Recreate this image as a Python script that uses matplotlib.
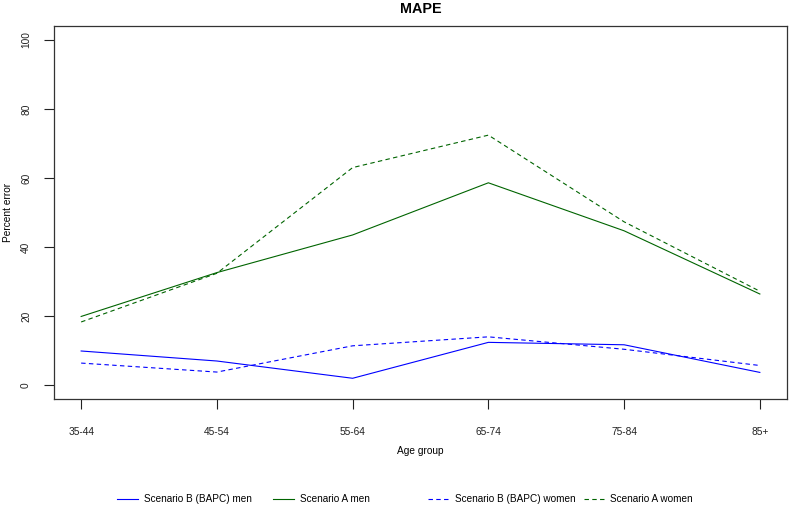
import matplotlib
matplotlib.use("Agg")
import matplotlib.pyplot as plt
from matplotlib.lines import Line2D

plt.rcParams['font.family'] = ['Liberation Sans', 'DejaVu Sans']

age_groups = ["35-44", "45-54", "55-64", "65-74", "75-84", "85+"]
b_men = [9.9, 7.0, 2.0, 12.4, 11.7, 3.7]
a_men = [19.9, 32.6, 43.5, 58.6, 44.7, 26.4]
b_women = [6.4, 3.8, 11.4, 14.0, 10.4, 5.7]
a_women = [18.3, 32.4, 63.0, 72.4, 47.3, 27.2]
yticks = [0, 20, 40, 60, 80, 100]

series = [
    ("Scenario B (BAPC) men", b_men, "#0000ff", "-"),
    ("Scenario A men", a_men, "#006400", "-"),
    ("Scenario B (BAPC) women", b_women, "#0000ff", (0, (4, 3))),
    ("Scenario A women", a_women, "#006400", (0, (4, 3))),
]

W, H = 789, 507
fig = plt.figure(figsize=(W / 100, H / 100), dpi=100)
left, right, top, bottom = 54, 787, 26, 399
ax = fig.add_axes([left / W, 1 - bottom / H, (right - left) / W, (bottom - top) / H])

x = list(range(1, len(age_groups) + 1))
for label, vals, color, ls in series:
    ax.plot(x, vals, color=color, linestyle=ls, linewidth=0.8)

ax.set_xlim(0.8, 6.2)
ax.set_ylim(-4, 104)
ax.set_xticks(x)
ax.set_xticklabels(age_groups)
ax.set_yticks(yticks)
ax.set_yticklabels([str(t) for t in yticks], rotation=90, va='center')
ax.tick_params(axis='x', length=7, width=0.8, pad=13, labelsize=7.3, colors='#222222')
ax.tick_params(axis='y', length=7.5, width=0.8, pad=9, labelsize=7.3, colors='#222222')
for s in ax.spines.values():
    s.set_linewidth(0.9)
    s.set_color('#333333')

fig.text((left + right) / 2 / W, 1 - 451 / H, "Age group", ha='center', va='center', fontsize=7.3)
fig.text(8 / W, 1 - 212 / H, "Percent error", ha='center', va='center', rotation=90, fontsize=7.3)
fig.text((left + right) / 2 / W, 1 - 9 / H, "MAPE", ha='center', va='center', fontsize=10.4, fontweight='bold')

# legend (equal column widths, as in the reference)
ly = 1 - 499 / H
for i, (label, vals, color, ls) in enumerate(series):
    x0 = 117 + i * 155.5
    fig.add_artist(Line2D([x0 / W, (x0 + 21) / W], [ly, ly], color=color, linestyle=ls, linewidth=0.8))
    fig.text((x0 + 27) / W, ly, label, ha='left', va='center', fontsize=7.2)

fig.savefig("out.png", dpi=100)
